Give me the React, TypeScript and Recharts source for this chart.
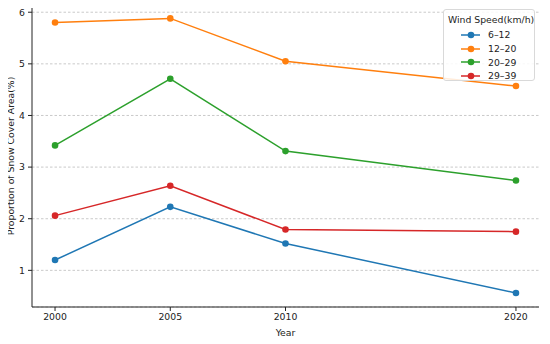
import { LineChart, Line, XAxis, YAxis, CartesianGrid, Legend } from "recharts";

const years = [2000, 2005, 2010, 2020];
const series6to12 = [1.2, 2.23, 1.52, 0.56];
const series12to20 = [5.8, 5.88, 5.05, 4.57];
const series20to29 = [3.42, 4.71, 3.31, 2.74];
const series29to39 = [2.06, 2.64, 1.79, 1.75];
const yTicks = [1, 2, 3, 4, 5, 6];

const seriesNames = ["6–12", "12–20", "20–29", "29–39"];
const colors = ["#1f77b4", "#ff7f0e", "#2ca02c", "#d62728"];

const data = years.map((year, i) => ({
  year,
  s0: series6to12[i],
  s1: series12to20[i],
  s2: series20to29[i],
  s3: series29to39[i],
}));

const font = "'DejaVu Sans', sans-serif";
const fs = 9.3;

function LegendBox({ payload }: any) {
  const items = [...(payload || [])].sort(
    (a: any, b: any) => seriesNames.indexOf(a.value) - seriesNames.indexOf(b.value)
  );
  return (
    <div
      style={{
        border: "1px solid #d9d9d9",
        borderRadius: 3,
        background: "rgba(255,255,255,0.85)",
        padding: "3px 4px 4px 4px",
        fontFamily: font,
        fontSize: fs,
        color: "#222",
        whiteSpace: "nowrap",
        boxSizing: "border-box",
        width: 92,
        height: 72,
      }}
    >
      <div style={{ textAlign: "center", height: 15, lineHeight: "13px" }}>Wind Speed(km/h)</div>
      {items.map((p: any) => (
        <div key={p.value} style={{ display: "flex", alignItems: "center", height: 13.7 }}>
          <svg width={27} height={10} style={{ marginLeft: 13 }}>
            <line x1={0} y1={5} x2={19} y2={5} stroke={p.color} strokeWidth={1.5} />
            <circle cx={10} cy={5} r={3.3} fill={p.color} />
          </svg>
          <span>{p.value}</span>
        </div>
      ))}
    </div>
  );
}

export default function App() {
  return (
    <div style={{ margin: -8, width: 550, height: 344, background: "#fff" }}>
      <LineChart
        width={550}
        height={344}
        data={data}
        margin={{ top: 5, right: 11, bottom: 0, left: 0 }}
      >
        <CartesianGrid
          horizontal
          vertical={false}
          stroke="#bdbdbd"
          strokeWidth={0.8}
          strokeDasharray="2.5 2"
        />
        <XAxis
          dataKey="year"
          type="number"
          domain={[1999, 2021]}
          ticks={years}
          height={37}
          tickSize={4}
          tick={{ fill: "#222", fontSize: fs, fontFamily: font }}
          stroke="#222"
          label={{
            value: "Year",
            position: "insideBottom",
            offset: 8,
            fill: "#222",
            fontSize: fs,
            fontFamily: font,
          }}
        />
        <YAxis
          type="number"
          domain={[0.29, 6.14]}
          ticks={yTicks}
          width={32}
          tickSize={4}
          tickMargin={3}
          tick={{ fill: "#222", fontSize: fs, fontFamily: font }}
          stroke="#222"
          label={{
            value: "Proportion of Snow Cover Area(%)",
            angle: -90,
            position: "center",
            dx: -5,
            fill: "#222",
            fontSize: fs,
            fontFamily: font,
          }}
        />
        <Legend
          layout="vertical"
          verticalAlign="middle"
          align="center"
          content={<LegendBox />}
          wrapperStyle={{ top: 9, left: 443, right: "auto", bottom: "auto", width: 92 }}
        />
        {seriesNames.map((name, i) => (
          <Line
            key={name}
            type="linear"
            dataKey={"s" + i}
            name={name}
            stroke={colors[i]}
            strokeWidth={1.5}
            dot={{ r: 3.3, fill: colors[i], stroke: colors[i], strokeWidth: 0 }}
            activeDot={false}
            isAnimationActive={false}
          />
        ))}
      </LineChart>
    </div>
  );
}
